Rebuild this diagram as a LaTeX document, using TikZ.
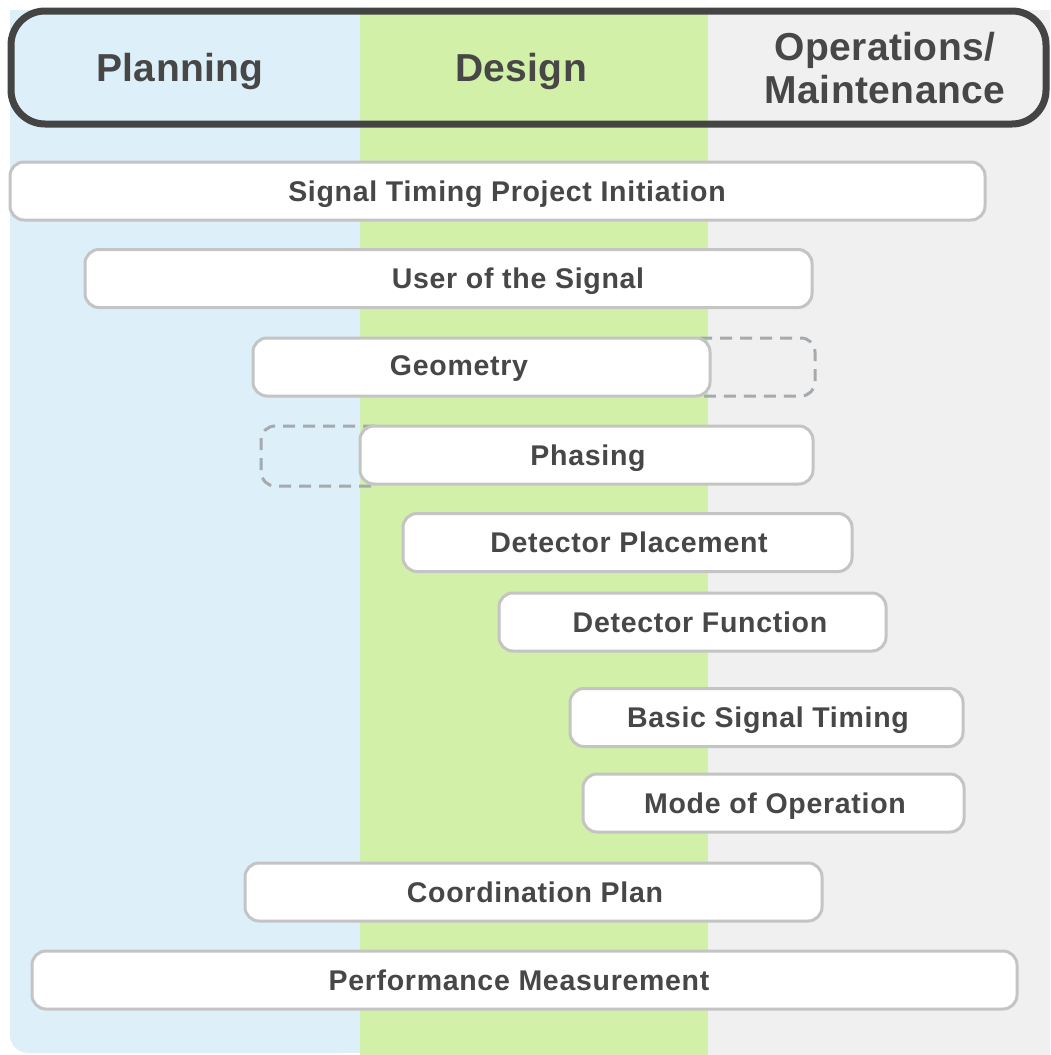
\documentclass[tikz,border=0pt]{standalone}
\usepackage{fontspec}
\setmainfont{Liberation Sans}
\definecolor{colblue}{HTML}{DDF0F9}
\definecolor{colgreen}{HTML}{D2F0A8}
\definecolor{colgray}{HTML}{F0F0F0}
\definecolor{hdrline}{HTML}{444444}
\definecolor{boxline}{HTML}{C4C4C4}
\definecolor{dashline}{HTML}{A4AAAE}
\definecolor{txt}{HTML}{474747}
\begin{document}
\begin{tikzpicture}[x=1pt,y=-1pt,
  hdr/.style={font=\fontsize{39}{43}\selectfont\bfseries\addfontfeature{LetterSpace=1}, text=txt, align=center, inner sep=0pt, anchor=base},
  stagebox/.style={draw=boxline, line width=3pt, fill=white, rounded corners=14pt, minimum height=58pt, inner sep=0pt, anchor=center},
  lbl/.style={font=\fontsize{28.5}{34}\selectfont\bfseries\addfontfeature{LetterSpace=2.5}, text=txt, inner sep=0pt, anchor=base},
  ghost/.style={draw=dashline, line width=3pt, dash pattern=on 12pt off 8pt, rounded corners=14pt}
]
\useasboundingbox (0,0) rectangle (1050,1055);
\fill[white] (0,0) rectangle (1050,1055);
% columns
\fill[colgray] (708,10) rectangle (1050,1055);
\fill[colgreen] (360,10) rectangle (708,1055);
\fill[colblue, rounded corners=18pt] (10,10) -- (10,1053) -- (360,1053) -- (360,10) -- cycle;
\fill[colblue] (10,10) rectangle (360,100);
\fill[colblue] (300,10) rectangle (360,1053);
% header
\draw[hdrline, line width=7pt, rounded corners=34pt] (11,11) rectangle (1046,124);
\node[hdr] (hplan) at (180,81) {Planning};
\node[hdr] (hdes) at (521,81) {Design};
\node[hdr] (hops) at (885,103) {Operations/\\Maintenance};
% dashed ghost boxes
\draw[ghost] (700,338) -- (815,338) -- (815,396) -- (700,396);
\draw[ghost] (375,426) -- (261,426) -- (261,486) -- (375,486);
% stage boxes
\node[stagebox, minimum width=975pt] (b1) at (497.5,191) {};
\node[lbl] (t1) at (507,201) {Signal Timing Project Initiation};
\node[stagebox, minimum width=727pt] (b2) at (448.5,278.5) {};
\node[lbl] (t2) at (518,288) {User of the Signal};
\node[stagebox, minimum width=457pt] (b3) at (481.5,367) {};
\node[lbl] (t3) at (459,375) {Geometry};
\node[stagebox, minimum width=453pt] (b4) at (586.5,455) {};
\node[lbl] (t4) at (588,465) {Phasing};
\node[stagebox, minimum width=449pt] (b5) at (627.5,542.5) {};
\node[lbl] (t5) at (629,552) {Detector Placement};
\node[stagebox, minimum width=387pt] (b6) at (692.5,622) {};
\node[lbl] (t6) at (700,632) {Detector Function};
\node[stagebox, minimum width=393pt] (b7) at (766.5,717.5) {};
\node[lbl] (t7) at (768,727) {Basic Signal Timing};
\node[stagebox, minimum width=381pt] (b8) at (773.5,803) {};
\node[lbl] (t8) at (775,813) {Mode of Operation};
\node[stagebox, minimum width=577pt] (b9) at (533.5,892) {};
\node[lbl] (t9) at (535,902) {Coordination Plan};
\node[stagebox, minimum width=985pt] (b10) at (524.5,980) {};
\node[lbl] (t10) at (519,990) {Performance Measurement};
\end{tikzpicture}
\end{document}
